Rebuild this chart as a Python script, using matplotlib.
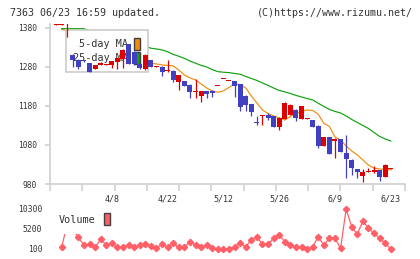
import matplotlib
matplotlib.use("Agg")
import matplotlib.pyplot as plt
import matplotlib.patches as mpatches
import numpy as np

plt.rcParams['font.family'] = ['DejaVu Sans Mono']

# daily candles (open, high, low, close), oldest first
opens = [1388, 1388, 1392, 1311, 1298, 1297, 1289, 1275, 1286, 1285,
         1285, 1293, 1301, 1339, 1318, 1288, 1275, 1298, 1281, 1281,
         1269, 1270, 1242, 1244, 1234, 1217, 1206, 1218, 1219, 1230,
         1248, 1243, 1244, 1236, 1206, 1185, 1139, 1153, 1157, 1153,
         1127, 1147, 1157, 1170, 1147, 1147, 1144, 1129, 1078, 1100,
         1089, 1095, 1059, 1042, 1018, 1001, 1012, 1010, 1016, 999, 1019]
highs = [1425, 1415, 1405, 1312, 1300, 1298, 1290, 1286, 1292, 1287,
         1296, 1303, 1325, 1340, 1320, 1289, 1312, 1299, 1283, 1282,
         1298, 1271, 1260, 1245, 1235, 1249, 1219, 1219, 1220, 1232,
         1250, 1245, 1245, 1237, 1207, 1186, 1153, 1158, 1161, 1154,
         1151, 1191, 1184, 1171, 1181, 1149, 1145, 1130, 1101, 1101,
         1097, 1096, 1106, 1043, 1019, 1018, 1020, 1026, 1017, 1030, 1022]
lows = [1387, 1387, 1356, 1280, 1275, 1293, 1266, 1274, 1285, 1284,
        1276, 1275, 1276, 1287, 1286, 1275, 1272, 1280, 1281, 1258,
        1268, 1242, 1221, 1231, 1200, 1200, 1189, 1200, 1204, 1230,
        1248, 1243, 1204, 1167, 1167, 1155, 1130, 1130, 1144, 1126,
        1118, 1146, 1156, 1141, 1146, 1147, 1126, 1071, 1077, 1057,
        1047, 1062, 996, 1003, 996, 986, 1011, 1009, 988, 998, 1018]
closes = [1420, 1410, 1400, 1298, 1280, 1294, 1268, 1285, 1290, 1286,
          1295, 1302, 1324, 1288, 1288, 1276, 1311, 1281, 1283, 1266,
          1271, 1247, 1259, 1232, 1217, 1219, 1218, 1211, 1212, 1232,
          1250, 1245, 1230, 1178, 1183, 1165, 1137, 1157, 1149, 1127,
          1150, 1188, 1183, 1148, 1180, 1149, 1127, 1078, 1100, 1058,
          1096, 1063, 1043, 1022, 1012, 1010, 1014, 1016, 999, 1029, 1021]

ma5 = [np.nan, 1377, 1372, 1345, 1322, 1305, 1292, 1286, 1285, 1286,
       1288, 1291, 1297, 1299, 1298, 1294, 1291.5, 1289.5, 1287.7, 1285,
       1284, 1282.6, 1272, 1259.5, 1251.8, 1246.7, 1236.4, 1226, 1218.5, 1215,
       1218.5, 1227.4, 1236.4, 1235, 1226, 1205.6, 1187.7, 1169.7, 1160.8, 1154.4,
       1149, 1144, 1152.6, 1160.8, 1165.4, 1169.7, 1168.5, 1158.7, 1135.6, 1127.4,
       1100.5, 1092.8, 1077.4, 1064.6, 1054.4, 1041.5, 1028.7, 1020.3, 1018.5, 1017, 1016]
ma25 = [np.nan, 1378, 1378, 1378, 1378, 1378, 1372, 1366, 1361, 1356,
        1352, 1348, 1344, 1340, 1337, 1335, 1333, 1328, 1326, 1323.6,
        1319, 1312, 1307.4, 1302, 1295, 1289.5, 1284, 1280, 1273, 1268,
        1266.4, 1265.4, 1263.3, 1261.3, 1255.6, 1250.5, 1245.4, 1239, 1232.6, 1226,
        1219.7, 1216, 1212, 1207, 1203, 1199, 1195.4, 1187, 1178.7, 1171,
        1166, 1162, 1154.4, 1145.4, 1137.7, 1130, 1122.3, 1112, 1101.8, 1095.4, 1090.3]

volume = [np.nan, 530, 6400, 5000, 3080, 1120, 1300, 530, 2570, 1120,
          1550, 530, 530, 1120, 530, 1120, 1300, 870, 280, 1300,
          530, 1550, 530, 530, 1970, 1120, 530, 1120, 280, 100,
          100, 100, 690, 1550, 690, 2400, 3240, 1300, 1300, 2830,
          3670, 1970, 1120, 690, 690, 100, 690, 3240, 1120, 2830,
          2830, 280, 10300, 5790, 3850, 7240, 5380, 4100, 2830, 1550, 100]

date_idx = [10, 20, 30, 40, 50, 60]
date_labels = ['4/8', '4/22', '5/12', '5/26', '6/9', '6/23']
price_ticks = [980, 1080, 1180, 1280, 1380]
vol_ticks = [100, 5200, 10300]

RED = '#dd0000'
BLUE = '#4040c0'
ORANGE = '#f08c10'
GREEN = '#10a010'
VOLC = '#ff6068'
GRAY = '#d0d0d0'
TXT = '#333333'

W, H = 420, 259
fig = plt.figure(figsize=(4.2, 2.59), dpi=100)

def px_axes(x0, y0, x1, y1):
    return fig.add_axes([x0 / W, 1 - y1 / H, (x1 - x0) / W, (y1 - y0) / H])

ax = px_axes(50, 24, 405, 184)
vax = px_axes(50, 204, 405, 254)

n = len(closes)
x = np.arange(n)
o = np.array(opens, float)
c = np.array(closes, float)
up = c >= o
cols = np.where(up, RED, BLUE)
bottoms = np.minimum(o, c)
heights = np.maximum(np.abs(c - o), 2.5)

ax.plot(x, ma5, color=ORANGE, lw=0.85, zorder=1.5)
ax.plot(x, ma25, color=GREEN, lw=0.85, zorder=1.5)
ax.vlines(x, lows, highs, colors=cols, lw=0.9, zorder=3)
ax.bar(x, heights, bottom=bottoms, width=0.9, color=cols, linewidth=0, zorder=3.5)

xlim = (-1.08, 62.55)
ax.set_xlim(*xlim)
ax.set_ylim(980, 1390)
ax.set_yticks(price_ticks)
ax.set_yticklabels([str(t) for t in price_ticks])
ax.set_xticks(np.linspace(xlim[0], xlim[1], 12))
ax.set_xticklabels([])
ax.set_xticks(date_idx, date_labels, minor=True)
for s in ['top', 'right']:
    ax.spines[s].set_visible(False)
for s in ['left', 'bottom']:
    ax.spines[s].set_color(GRAY)
    ax.spines[s].set_linewidth(1.2)
ax.tick_params(axis='y', length=3.5, width=1.2, color=GRAY, pad=6,
               labelsize=5.7, labelcolor=TXT)
ax.tick_params(axis='x', which='major', length=5, width=1.2, color=GRAY)
ax.tick_params(axis='x', which='minor', length=0, pad=7.5,
               labelsize=6, labelcolor=TXT)

handles = [mpatches.Patch(facecolor=ORANGE, edgecolor='#404040', lw=1),
           mpatches.Patch(facecolor=GREEN, edgecolor='#404040', lw=1)]
leg = ax.legend(handles, ['5-day MA', '25-day MA'], loc='upper left',
                bbox_to_anchor=(65.7 / W, 1 - 30.3 / H),
                bbox_transform=fig.transFigure, markerfirst=False,
                prop={'size': 7.3}, handlelength=0.62, handleheight=1.5,
                handletextpad=0.55, labelspacing=0.15, borderpad=0.75,
                borderaxespad=0, fancybox=False, framealpha=1,
                edgecolor='#cccccc', labelcolor=TXT)
leg.get_frame().set_linewidth(1.2)
leg.set_zorder(2)

vax.plot(x, volume, color=VOLC, lw=0.9, marker='D', ms=3.2, zorder=1)
vax.set_xlim(*xlim)
vax.set_ylim(100 - 5 * 255, 10300 + 5 * 255)
vax.set_yticks(vol_ticks)
vax.set_yticklabels([str(t) for t in vol_ticks])
vax.set_xticks([])
for s in vax.spines.values():
    s.set_visible(False)
vax.tick_params(axis='y', length=0, pad=5.5, labelsize=5.8, labelcolor=TXT)
vleg = vax.legend([mpatches.Patch(facecolor=VOLC, edgecolor='#404040', lw=1)],
                  ['Volume'], loc='upper left',
                  bbox_to_anchor=(51 / W, 1 - 205 / H),
                  bbox_transform=fig.transFigure, markerfirst=False,
                  prop={'size': 7.3}, handlelength=0.55, handleheight=1.5,
                  handletextpad=0.8, borderpad=0.8, borderaxespad=0,
                  fancybox=False, framealpha=1, edgecolor='none',
                  labelcolor=TXT)
vleg.set_zorder(3)

fig.text(10 / W, 1 - 13 / H, '7363 06/23 16:59 updated.', fontsize=7.2,
         color=TXT, va='center', ha='left')
fig.text(413 / W, 1 - 13 / H, '(C)https://www.rizumu.net/', fontsize=7.2,
         color=TXT, va='center', ha='right')

fig.savefig('out.png', dpi=100)
